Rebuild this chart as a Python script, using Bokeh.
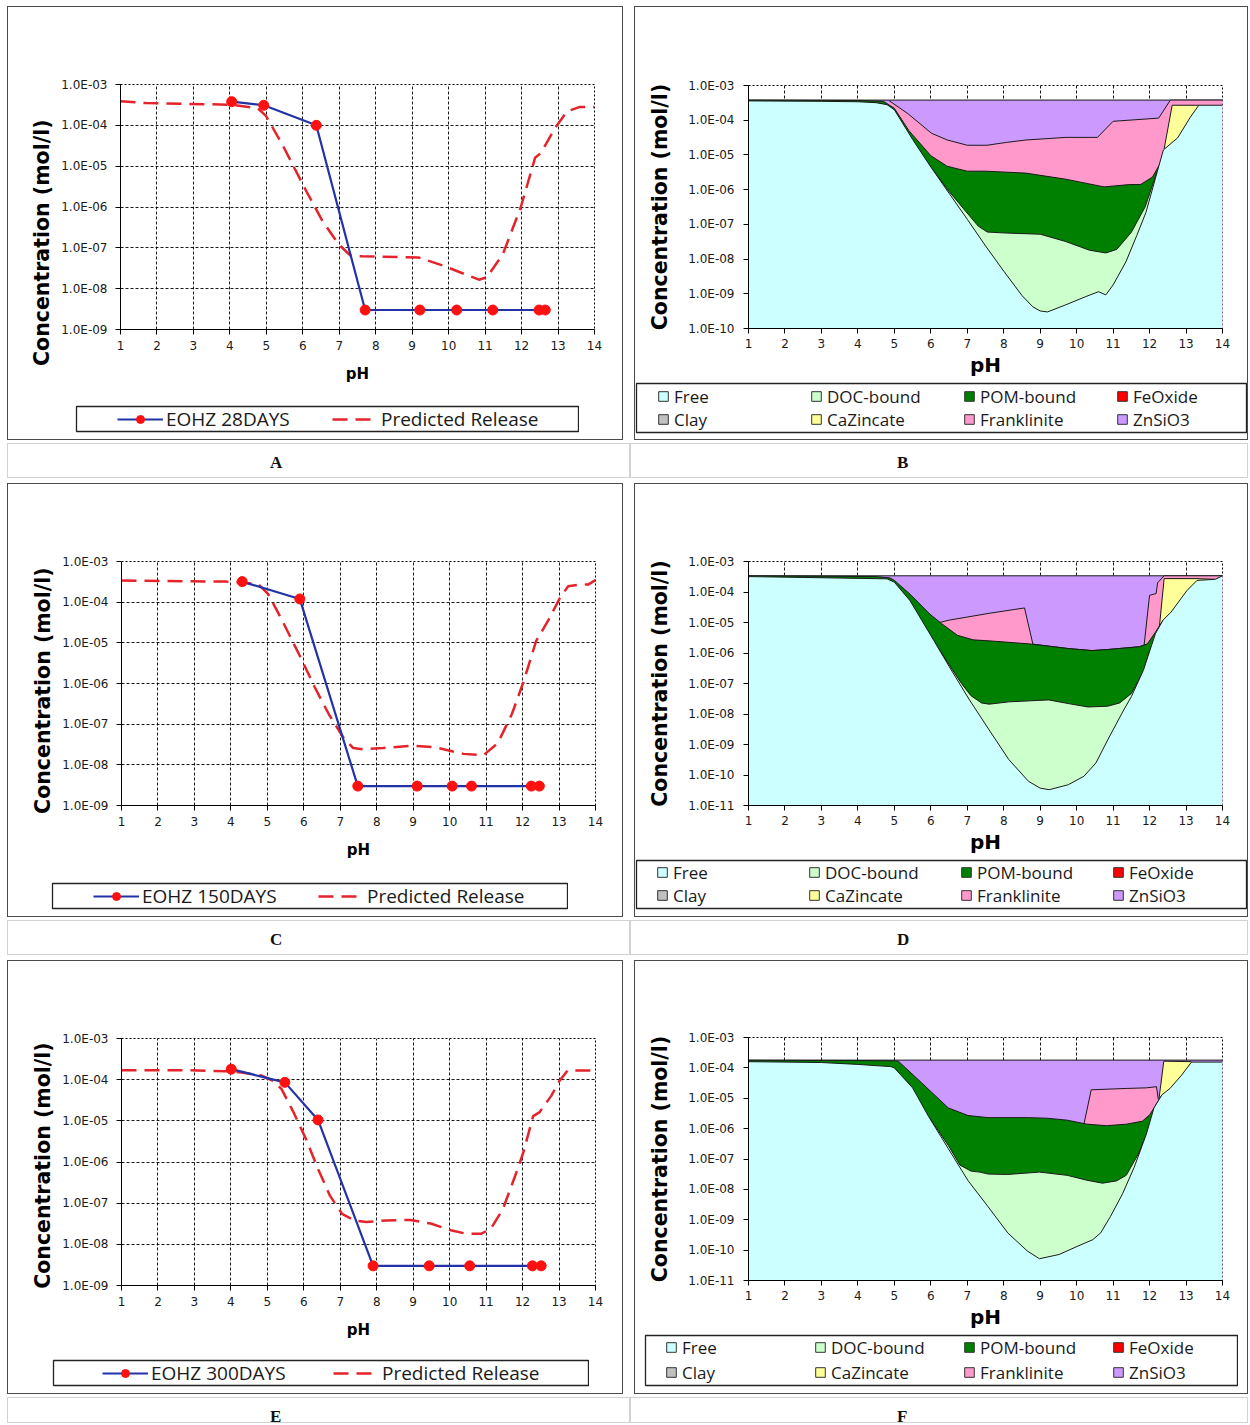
from bokeh.plotting import figure
from bokeh.models import (Range1d, FixedTicker, CustomJSTickFormatter, Legend, LegendItem, Div, Spacer)
from bokeh.layouts import column, row
from bokeh.embed import file_html
from bokeh.resources import INLINE

# ---------------- DATA : leaching curves (A, C, E) ----------------
ph_ticks = [1, 2, 3, 4, 5, 6, 7, 8, 9, 10, 11, 12, 13, 14]
decades_line = [1e-9, 1e-8, 1e-7, 1e-6, 1e-5, 1e-4, 1e-3]
decades_area_B = [1e-10, 1e-9, 1e-8, 1e-7, 1e-6, 1e-5, 1e-4, 1e-3]
decades_area_DF = [1e-11, 1e-10, 1e-9, 1e-8, 1e-7, 1e-6, 1e-5, 1e-4, 1e-3]

ph_28 = [4.05, 4.93, 6.37, 7.71, 9.21, 10.22, 11.21, 12.48, 12.65]
eohz_28 = [3.8e-4, 3.1e-4, 1.0e-4, 3.0e-9, 3.0e-9, 3.0e-9, 3.0e-9, 3.0e-9, 3.0e-9]
pred_ph_A = [1.0, 1.7, 4.05, 4.77, 4.99, 5.43, 6.09, 6.53, 6.97, 7.3, 7.63, 8.73, 9.17, 9.84,
             10.83, 11.05, 11.49, 11.98, 12.37, 12.53, 12.92, 13.25, 13.58, 14.0]
pred_A = [3.9e-4, 3.5e-4, 3.2e-4, 2.6e-4, 1.7e-4, 3.5e-5, 2.5e-6, 4.7e-7, 1.26e-7, 6.5e-8, 6.2e-8,
          5.9e-8, 5.8e-8, 3.7e-8, 1.66e-8, 1.9e-8, 7.1e-8, 1.0e-6, 1.6e-5, 2.1e-5, 8.7e-5, 2.2e-4,
          2.8e-4, 2.8e-4]

ph_150 = [4.31, 5.89, 7.48, 9.11, 10.07, 10.6, 12.24, 12.46]
eohz_150 = [3.2e-4, 1.2e-4, 3.0e-9, 3.0e-9, 3.0e-9, 3.0e-9, 3.0e-9, 3.0e-9]
pred_ph_C = [1.0, 3.87, 4.42, 4.75, 5.03, 5.41, 5.91, 6.3, 6.68, 7.07, 7.35, 7.62, 8.17, 9.0, 9.6,
             10.38, 10.93, 11.32, 11.71, 12.04, 12.37, 12.7, 13.03, 13.25, 13.58, 13.8, 14.0]
pred_C = [3.4e-4, 3.2e-4, 2.95e-4, 2.8e-4, 1.55e-4, 3.5e-5, 4.4e-6, 8.1e-7, 1.8e-7, 4.9e-8, 2.6e-8,
          2.4e-8, 2.6e-8, 2.95e-8, 2.7e-8, 1.86e-8, 1.74e-8, 3.4e-8, 1.8e-7, 1.2e-6, 1.1e-5, 3.5e-5,
          1.3e-4, 2.45e-4, 2.7e-4, 2.7e-4, 3.5e-4]

ph_300 = [4.01, 5.48, 6.39, 7.9, 9.44, 10.55, 12.27, 12.51]
eohz_300 = [1.8e-4, 8.6e-5, 1.05e-5, 3.0e-9, 3.0e-9, 3.0e-9, 3.0e-9, 3.0e-9]
pred_ph_E = [1.0, 2.85, 3.85, 4.29, 4.84, 5.17, 5.39, 5.72, 6.06, 6.39, 6.72, 7.05, 7.38, 7.71, 8.26,
             8.92, 9.48, 10.03, 10.47, 10.86, 11.13, 11.46, 11.8, 12.02, 12.29, 12.46, 12.79, 13.01,
             13.23, 14.0]
pred_E = [1.7e-4, 1.7e-4, 1.6e-4, 1.5e-4, 1.26e-4, 9.3e-5, 5.9e-5, 1.6e-5, 3.6e-6, 6.8e-7, 1.5e-7,
          5.5e-8, 3.8e-8, 3.5e-8, 3.8e-8, 3.9e-8, 3.2e-8, 2.2e-8, 1.8e-8, 1.8e-8, 2.4e-8, 7.2e-8,
          4.7e-7, 1.7e-6, 1.3e-5, 1.6e-5, 4.1e-5, 9.3e-5, 1.66e-4, 1.66e-4]

# ---------------- DATA : speciation (B, D, F) - cumulative tops of each stacked layer ----------------
species = ["Free", "DOC-bound", "POM-bound", "FeOxide", "Clay", "CaZincate", "Franklinite", "ZnSiO3"]

total_ph_B = [1.0, 14.0]
total_B = [3.8e-4, 3.8e-4]
free_ph_B = [1.0, 3.0, 4.0, 4.5, 4.8, 5.0, 5.5, 6.0, 6.5, 7.0, 7.5, 8.0, 8.5, 8.8, 9.0, 9.2, 9.7, 10.25,
             10.6, 10.8, 11.0, 11.35, 11.65, 11.9, 12.2, 12.38, 12.77, 13.12, 13.35, 14.0]
free_B = [3.6e-4, 3.5e-4, 3.4e-4, 3.2e-4, 2.8e-4, 2.0e-4, 2.8e-5, 4.5e-6, 7.9e-7, 1.4e-7, 2.4e-8, 4.5e-9,
          8.9e-10, 4.2e-10, 3.2e-10, 3.0e-10, 4.8e-10, 8.3e-10, 1.15e-9, 9.3e-10, 1.8e-9, 8.3e-9, 4.8e-8,
          2.2e-7, 3.0e-6, 1.4e-5, 3.1e-5, 1.23e-4, 2.7e-4, 2.7e-4]
doc_ph_B = [6.0, 6.5, 6.9, 7.3, 7.55, 8.1, 9.0, 9.7, 10.35, 10.8, 11.1, 11.5, 11.88, 12.2]
doc_B = [4.5e-6, 8.9e-7, 2.8e-7, 8.9e-8, 6.0e-8, 5.6e-8, 5.2e-8, 3.2e-8, 1.8e-8, 1.5e-8, 1.9e-8, 5.9e-8,
         3.2e-7, 3.2e-6]
pom_ph_B = [1.0, 4.0, 4.7, 5.0, 5.4, 6.0, 6.45, 7.0, 7.5, 8.6, 9.7, 10.75, 11.45, 11.75, 12.08, 12.3, 12.44]
pom_B = [3.8e-4, 3.7e-4, 3.5e-4, 2.2e-4, 5.0e-5, 9.5e-6, 4.7e-6, 3.4e-6, 3.4e-6, 3.0e-6, 2.0e-6, 1.2e-6,
         1.4e-6, 1.4e-6, 2.3e-6, 5.9e-6, 1.6e-5]
caz_ph_B = [12.4, 12.62, 13.35]
caz_B = [1.5e-5, 2.7e-4, 2.7e-4]
frank_ph_B = [4.85, 5.37, 6.02, 6.45, 7.0, 7.54, 8.08, 8.62, 9.71, 10.57, 11.0, 12.25, 12.57, 14.0]
frank_B = [3.7e-4, 1.55e-4, 4.2e-5, 2.7e-5, 1.9e-5, 1.9e-5, 2.3e-5, 2.7e-5, 3.2e-5, 3.2e-5, 9.3e-5,
           1.15e-4, 3.8e-4, 3.8e-4]

total_ph_D = [1.0, 14.0]
total_D = [3.4e-4, 3.4e-4]
free_ph_D = [1.0, 2.5, 4.8, 5.0, 5.43, 6.08, 6.51, 7.06, 7.6, 8.14, 8.68, 9.0, 9.25, 9.77, 10.2, 10.53,
             10.85, 11.29, 11.5, 11.83, 12.16, 12.37, 12.59, 13.02, 13.3, 13.8, 14.0]
free_D = [3.2e-4, 3.0e-4, 2.7e-4, 2.1e-4, 5.2e-5, 2.6e-6, 3.5e-7, 2.9e-8, 3.0e-9, 3.2e-10, 6.2e-11,
          3.7e-11, 3.3e-11, 4.8e-11, 9.1e-11, 2.5e-10, 1.4e-9, 1.35e-8, 3.7e-8, 2.7e-7, 4.3e-6, 1.2e-5,
          2.2e-5, 1.1e-4, 2.4e-4, 2.6e-4, 3.4e-4]
doc_ph_D = [6.08, 6.51, 6.84, 7.1, 7.39, 7.6, 8.14, 9.23, 9.77, 10.31, 10.85, 11.18, 11.5, 11.83, 12.0]
doc_D = [2.6e-6, 4.0e-7, 1.0e-7, 4.0e-8, 2.3e-8, 2.1e-8, 2.5e-8, 2.9e-8, 2.2e-8, 1.7e-8, 1.8e-8, 2.3e-8,
         4.7e-8, 2.5e-7, 1.1e-6]
pom_ph_D = [1.0, 4.5, 4.88, 5.0, 5.43, 5.97, 6.3, 6.73, 7.16, 7.6, 8.68, 9.77, 10.42, 10.85, 11.72, 11.94,
            12.16, 12.37]
pom_D = [3.4e-4, 3.2e-4, 2.9e-4, 2.4e-4, 8.5e-5, 1.9e-5, 9.1e-6, 3.8e-6, 2.7e-6, 2.5e-6, 2.0e-6, 1.4e-6,
         1.2e-6, 1.3e-6, 1.6e-6, 2.0e-6, 4.8e-6, 1.2e-5]
caz_ph_D = [12.27, 12.4, 13.3, 13.8]
caz_D = [7.4e-6, 2.75e-4, 2.75e-4, 2.6e-4]
frank_ph_D = [6.24, 6.51, 7.6, 8.57, 8.8, 9.77, 10.42, 10.85, 11.72, 11.85, 12.0, 12.18, 12.22, 12.4, 14.0]
frank_D = [1.0e-5, 1.2e-5, 2.0e-5, 3.0e-5, 1.95e-6, 1.4e-6, 1.2e-6, 1.3e-6, 1.6e-6, 1.8e-6, 7.8e-5,
           8.9e-5, 2.0e-4, 3.4e-4, 3.4e-4]

total_ph_F = [1.0, 14.0]
total_F = [1.8e-4, 1.8e-4]
free_ph_F = [1.0, 3.0, 4.0, 4.9, 5.0, 5.5, 5.94, 6.48, 7.02, 7.57, 8.11, 8.65, 8.98, 9.52, 10.06, 10.44,
             10.66, 10.93, 11.26, 11.58, 11.91, 12.12, 12.34, 12.56, 12.88, 13.15, 14.0]
free_F = [1.6e-4, 1.5e-4, 1.3e-4, 1.1e-4, 1.0e-4, 2.2e-5, 2.5e-6, 2.2e-7, 1.95e-8, 2.7e-9, 3.7e-10,
          9.3e-11, 5.2e-11, 7.2e-11, 1.4e-10, 2.2e-10, 3.7e-10, 1.3e-9, 7.2e-9, 5.4e-8, 6.5e-7, 4.8e-6,
          1.3e-5, 2.1e-5, 5.8e-5, 1.55e-4, 1.55e-4]
doc_ph_F = [5.94, 6.48, 6.8, 7.1, 7.35, 7.57, 8.11, 8.98, 9.74, 10.28, 10.71, 11.09, 11.36, 11.69, 11.91]
doc_F = [2.5e-6, 2.8e-7, 6.3e-8, 4.0e-8, 3.7e-8, 3.2e-8, 3.1e-8, 3.7e-8, 2.9e-8, 2.0e-8, 1.6e-8, 1.9e-8,
         2.9e-8, 1.45e-7, 6.5e-7]
pom_ph_F = [1.0, 3.5, 4.5, 5.0, 5.11, 5.75, 6.48, 7.02, 7.57, 8.65, 9.19, 9.74, 10.28, 10.82, 11.36, 11.8,
            12.01, 12.23, 12.34]
pom_F = [1.78e-4, 1.75e-4, 1.72e-4, 1.7e-4, 1.66e-4, 3.2e-5, 4.8e-6, 2.7e-6, 2.3e-6, 2.3e-6, 2.2e-6,
         1.9e-6, 1.4e-6, 1.25e-6, 1.4e-6, 1.75e-6, 2.9e-6, 7.8e-6, 1.3e-5]
caz_ph_F = [12.26, 12.39, 13.15]
caz_F = [1.0e-5, 1.66e-4, 1.6e-4]
frank_ph_F = [10.2, 10.4, 11.36, 11.91, 12.19, 12.24]
frank_F = [1.4e-6, 1.9e-5, 2.1e-5, 2.2e-5, 2.4e-5, 9.1e-6]

# ---------------- STYLE ----------------
COL = {"Free": "#CCFFFF", "DOC-bound": "#CCFFCC", "POM-bound": "#008000", "FeOxide": "#FF0000",
       "Clay": "#C0C0C0", "CaZincate": "#FFFF99", "Franklinite": "#FF99CC", "ZnSiO3": "#CC99FF"}
BLUE = "#2233A8"
RED = "#FF1010"
RED_DASH = "#E5232B"
DASH = "15 8"
PANEL_BORDER = {"border": "1px solid #4a4a4a", "background-color": "white"}
NBSP = "\u00a0"

EXP_FMT = CustomJSTickFormatter(code="""
const e = Math.round(Math.log10(tick));
const a = Math.abs(e);
return '1.0E' + (e < 0 ? '-' : '+') + (a < 10 ? '0' + a : '' + a);
""")


def base_fig(width, height, fl, ft, fw, fh, ymin, yticks, area, ylabel_pad=0):
    p = figure(width=width, height=height, x_range=Range1d(1, 14), y_range=Range1d(ymin, 1e-3),
               y_axis_type="log", output_backend="svg", toolbar_location=None,
               min_border_left=fl, min_border_right=width - fl - fw, min_border_top=ft,
               min_border_bottom=height - ft - fh)
    p.background_fill_color = "white"
    p.border_fill_color = "white"
    p.outline_line_color = "black"
    p.outline_line_dash = "2 2"
    xt = FixedTicker(ticks=ph_ticks)
    yt = FixedTicker(ticks=yticks)
    p.xaxis.ticker = xt
    p.yaxis.ticker = yt
    p.xgrid.ticker = xt
    p.ygrid.ticker = yt
    p.yaxis.formatter = EXP_FMT
    for ax in (p.xaxis[0], p.yaxis[0]):
        ax.axis_line_color = "black"
        ax.axis_line_width = 1
        ax.major_tick_line_color = "black"
        ax.major_tick_out = 5
        ax.major_tick_in = 0
        ax.minor_tick_out = 0
        ax.minor_tick_in = 0
        ax.major_label_text_font = "DejaVu Sans"
        ax.major_label_text_font_size = "12px"
        ax.major_label_text_color = "#1a1a1a"
        ax.axis_label_text_font = "DejaVu Sans"
        ax.axis_label_text_font_style = "bold"
        ax.axis_label_text_color = "black"
    p.xaxis.axis_label = "pH"
    p.yaxis.axis_label = "Concentration (mol/l)" + NBSP * ylabel_pad
    p.yaxis.axis_label_text_font_size = "20.5px"
    if area:
        p.xaxis.major_label_standoff = 5
        p.xaxis.axis_label_text_font_size = "20px"
        p.xaxis.axis_label_standoff = 2
        p.yaxis.major_label_standoff = 9
        p.yaxis.axis_label_standoff = 13
    else:
        p.xaxis.major_label_standoff = 6
        p.xaxis.axis_label_text_font_size = "15px"
        p.xaxis.axis_label_standoff = 12
        p.yaxis.major_label_standoff = 8
        p.yaxis.axis_label_standoff = 4
    p.grid.grid_line_color = "black"
    p.grid.grid_line_dash = "3 2"
    p.grid.grid_line_alpha = 0.9
    return p


def legend_fig(box_w, box_h):
    # a small plot whose frame outline is the legend's box
    lf = figure(width=box_w + 2, height=box_h + 8, x_range=Range1d(0, 1), y_range=Range1d(0, 1),
                toolbar_location=None, output_backend="svg", min_border_left=1, min_border_right=1,
                min_border_top=4, min_border_bottom=4, x_axis_location=None, y_axis_location=None)
    lf.xgrid.visible = False
    lf.ygrid.visible = False
    lf.outline_line_color = "#222222"
    lf.outline_line_width = 1.3
    lf.background_fill_color = "white"
    lf.border_fill_color = None
    lf.background_fill_alpha = 0
    return lf


def line_panel(ph_m, c_m, label, ph_p, c_p, geo, leg, ylabel_pad=0):
    width, fl, ft, fh = geo
    main_h = 395
    p = base_fig(width, main_h, fl, ft, 474, fh, 1e-9, decades_line, False, ylabel_pad)
    p.line(ph_p, c_p, line_color=RED_DASH, line_width=2.5, line_dash=DASH)
    p.line(ph_m, c_m, line_color=BLUE, line_width=2.2)
    p.scatter(ph_m, c_m, size=10, marker="circle", fill_color=RED, line_color=RED)

    box_x, box_w, vx, lw = leg
    lf = legend_fig(box_w, 25)
    # legend swatches: single off-frame points (outside the 0..1 ranges), only their legend glyphs show
    dash = lf.line([5, 6], [5, 5], line_color=RED_DASH, line_width=2.5, line_dash=DASH)
    ln = lf.line([5, 6], [5, 5], line_color=BLUE, line_width=2.2)
    sc = lf.scatter([5], [5], size=9, marker="circle", fill_color=RED, line_color=RED)
    lg = Legend(items=[LegendItem(label=label, renderers=[ln, sc]),
                       LegendItem(label="Predicted Release", renderers=[dash])],
                location=(vx, -0.5), orientation="horizontal", glyph_width=46, glyph_height=20,
                label_height=20, label_width=lw, label_standoff=3, spacing=0, padding=0, margin=0,
                border_line_color=None, background_fill_alpha=0,
                label_text_font="Open Sans", label_text_font_size="19px", label_text_color="#1a1a1a")
    lf.add_layout(lg)
    return column(p, row(Spacer(width=box_x - 1, height=33), lf),
                  Spacer(width=width, height=432 - main_h - 33), styles=PANEL_BORDER)


def area_panel(ymin, yticks, layers, geo, leg):
    width, fl, ft, fh, main_h = geo
    p = base_fig(width, main_h, fl, ft, 474, fh, ymin, yticks, True)
    # paint from the top of the stack downwards: each layer filled from the axis floor to its top
    for name, ph, top in layers:
        p.varea(x=ph, y1=ymin, y2=top, fill_color=COL[name])
        p.line(ph, top, line_color="#1a1a1a", line_width=1)

    box_x, box_w, box_h, vx, colw, rowgap = leg
    lf = legend_fig(box_w, box_h)
    items = []
    for name in species:
        proxy = lf.quad(left=[5], right=[6], top=[6], bottom=[5], fill_color=COL[name],
                        line_color="#333333")
        items.append(LegendItem(label=name, renderers=[proxy]))
    lg = Legend(items=items, location=(vx, 1.5), orientation="horizontal", ncols=4,
                glyph_width=12, glyph_height=12, label_height=23, label_width=colw - 12 - 5,
                label_standoff=5, spacing=rowgap, padding=0, margin=0, border_line_color=None,
                background_fill_alpha=0, label_text_font="Open Sans", label_text_font_size="17px",
                label_text_color="#1a1a1a")
    lf.add_layout(lg)
    return column(p, row(Spacer(width=box_x - 1, height=box_h + 8), lf),
                  Spacer(width=width, height=432 - main_h - box_h - 8), styles=PANEL_BORDER)


pA = line_panel(ph_28, eohz_28, "EOHZ 28DAYS", pred_ph_A, pred_A, (614, 112, 77, 245), (68, 502, 41, 166),
                ylabel_pad=10)
pC = line_panel(ph_150, eohz_150, "EOHZ 150DAYS", pred_ph_C, pred_C, (614, 113, 77, 244), (44, 515, 41, 176),
                ylabel_pad=2)
pE = line_panel(ph_300, eohz_300, "EOHZ 300DAYS", pred_ph_E, pred_E, (614, 113, 77, 247), (45, 535, 49, 182),
                ylabel_pad=1)

pB = area_panel(1e-10, decades_area_B,
                [("ZnSiO3", total_ph_B, total_B), ("Franklinite", frank_ph_B, frank_B),
                 ("CaZincate", caz_ph_B, caz_B), ("POM-bound", pom_ph_B, pom_B),
                 ("DOC-bound", doc_ph_B, doc_B), ("Free", free_ph_B, free_B)],
                (612, 113, 78, 245, 372), (1, 610, 49, 21, 153, 0))
pD = area_panel(1e-11, decades_area_DF,
                [("ZnSiO3", total_ph_D, total_D), ("Franklinite", frank_ph_D, frank_D),
                 ("CaZincate", caz_ph_D, caz_D), ("POM-bound", pom_ph_D, pom_D),
                 ("DOC-bound", doc_ph_D, doc_D), ("Free", free_ph_D, free_D)],
                (612, 113, 77, 245, 372), (1, 610, 48, 20, 152, 0))
pF = area_panel(1e-11, decades_area_DF,
                [("ZnSiO3", total_ph_F, total_F), ("Franklinite", frank_ph_F, frank_F),
                 ("CaZincate", caz_ph_F, caz_F), ("POM-bound", pom_ph_F, pom_F),
                 ("DOC-bound", doc_ph_F, doc_F), ("Free", free_ph_F, free_F)],
                (612, 113, 76, 247, 370), (10, 592, 50, 20, 147, 2))


def caption(letter, width, height, pad):
    return Div(text=(f'<div style="font-family:\'Liberation Serif\';font-weight:bold;font-size:17px;'
                     f'padding-left:{pad}px;padding-top:7px;color:#111">{letter}</div>'),
               width=width, height=height, margin=0,
               styles={"border": "1px solid #d2d2d2", "box-sizing": "border-box"})


def panel_row(left, right):
    return row(Spacer(width=7, height=10), left, Spacer(width=11, height=10), right)


def caption_row(a, b, h):
    return row(Spacer(width=7, height=h), caption(a, 623, h, 262), caption(b, 618, h, 266))


layout = column(
    Spacer(width=10, height=6),
    panel_row(pA, pB),
    Spacer(width=10, height=3),
    caption_row("A", "B", 35),
    Spacer(width=10, height=5),
    panel_row(pC, pD),
    Spacer(width=10, height=3),
    caption_row("C", "D", 35),
    Spacer(width=10, height=5),
    panel_row(pE, pF),
    Spacer(width=10, height=3),
    caption_row("E", "F", 26),
)

open("out.html", "w").write(file_html(layout, INLINE))
